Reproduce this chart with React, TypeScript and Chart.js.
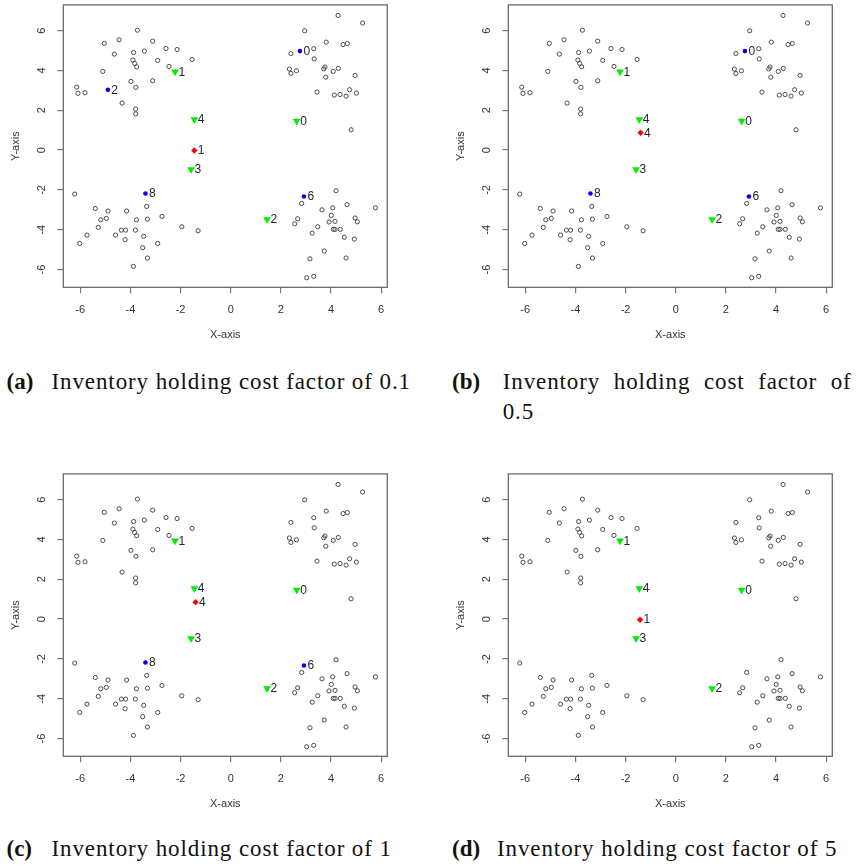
import React, { useEffect, useRef } from 'react';
import { Chart, registerables } from 'chart.js';

Chart.register(...registerables);

// ---------- data ----------
const CUSTOMER_X = [
  -3.72, -4.45, -5.04, -3.11, -2.58, -2.14, -3.44, -3.87, -4.64, -1.54, -2.91, -3.9, -3.83, -3.75, -2.46, -5.1, -3.98, -3.11, -3.78, -6.14, -6.09, -5.81, -4.33, -3.79, -3.79,
  4.28, 5.26, 2.95, 3.81, 4.48, 4.65, 3.31, 2.4, 3.33, 2.34, 2.4, 2.62, 3.71, 3.76, 4.09, 4.29, 3.79, 4.96, 3.44, 4.13, 4.36, 4.6, 4.74, 5.01, 4.8,
  -6.22, -5.4, -4.89, -5.18, -4.96, -5.28, -5.73, -6.02, -4.15, -3.76, -3.35, -3.32, -2.74, -4.36, -4.19, -4.59, -3.8, -4.21, -3.47, -3.51, -2.91, -3.32, -3.88, -1.95, -1.3,
  4.2, 2.83, 3.64, 4.07, 4.64, 5.77, 2.67, 2.55, 4.01, 3.92, 4.16, 4.96, 5.05, 3.47, 3.25, 4.09, 4.16, 4.37, 4.53, 4.93, 3.73, 3.16, 4.6, 3.03, 3.31,
];
const CUSTOMER_Y = [
  6.02, 5.54, 5.36, 5.47, 5.1, 5.05, 4.97, 4.9, 4.82, 4.55, 4.5, 4.52, 4.35, 4.18, 4.2, 3.95, 3.45, 3.48, 3.15, 3.16, 2.85, 2.88, 2.36, 2.06, 1.82,
  6.76, 6.38, 5.99, 5.42, 5.3, 5.35, 5.09, 4.85, 4.58, 4.07, 3.85, 3.98, 4.08, 4.17, 3.95, 4.1, 3.66, 3.75, 2.91, 2.76, 2.79, 2.71, 3.03, 2.86, 1.02,
  -2.21, -2.93, -3.06, -3.5, -3.43, -3.88, -4.27, -4.69, -3.06, -3.5, -2.83, -3.47, -3.33, -4.02, -4.02, -4.27, -4.02, -4.5, -4.33, -4.9, -4.69, -5.42, -5.84, -3.85, -4.05,
  -2.04, -2.68, -3.0, -2.9, -2.74, -2.9, -3.45, -3.7, -3.28, -3.61, -3.58, -3.41, -3.6, -3.85, -4.17, -3.98, -3.98, -3.98, -4.38, -4.47, -5.07, -5.46, -5.42, -6.41, -6.34,
];

const X_TICKS = [-6, -4, -2, 0, 2, 4, 6];
const Y_TICKS = [-6, -4, -2, 0, 2, 4, 6];
const X_MIN = -6.675;
const X_MAX = 6.244;
const Y_MIN = -6.89;
const Y_MAX = 7.29;

const GREEN_X = [-2.22, -1.45, 2.63, -1.58, 1.45];
const GREEN_Y = [3.93, 1.54, 1.46, -0.97, -3.48];
const GREEN_LABELS = ['1', '4', '0', '3', '2'];

const BLUE_A_X = [-4.9, 2.76, -3.4, 2.92];
const BLUE_A_Y = [3.03, 4.97, -2.18, -2.33];
const BLUE_A_LABELS = ['2', '0', '8', '6'];
const BLUE_B_X = [2.76, -3.4, 2.92];
const BLUE_B_Y = [4.97, -2.18, -2.33];
const BLUE_B_LABELS = ['0', '8', '6'];
const BLUE_C_X = [-3.4, 2.92];
const BLUE_C_Y = [-2.18, -2.33];
const BLUE_C_LABELS = ['8', '6'];
const BLUE_D_X: number[] = [];
const BLUE_D_Y: number[] = [];
const BLUE_D_LABELS: string[] = [];

const RED_A_X = [-1.45];
const RED_A_Y = [-0.02];
const RED_A_LABELS = ['1'];
const RED_B_X = [-1.4];
const RED_B_Y = [0.87];
const RED_B_LABELS = ['4'];
const RED_C_X = [-1.4];
const RED_C_Y = [0.85];
const RED_C_LABELS = ['4'];
const RED_D_X = [-1.42];
const RED_D_Y = [-0.03];
const RED_D_LABELS = ['1'];

const CAPTION_PREFIX = ['(a)', '(b)', '(c)', '(d)'];
const CAPTION_TEXT = [
  'Inventory holding cost factor of 0.1',
  'Inventory holding cost factor of 0.5',
  'Inventory holding cost factor of 1',
  'Inventory holding cost factor of 5',
];

// ---------- helpers ----------
const zip = (xs: number[], ys: number[]) => xs.map((x, i) => ({ x, y: ys[i] }));

const SANS = "'Liberation Sans', Arial, sans-serif";
const SERIF = "'Liberation Serif', 'Times New Roman', serif";

const CANVAS_W = 420;
const CANVAS_H = 345;
const AREA_LEFT = 63.3;
const AREA_RIGHT = 387.3;
const AREA_TOP = 4.7;
const AREA_BOTTOM = 287.3;

const boxPlugin = {
  id: 'rbox',
  afterDraw(chart: any) {
    const { ctx, chartArea: a } = chart;
    ctx.save();
    ctx.strokeStyle = '#6a6a6a';
    ctx.lineWidth = 1.3;
    ctx.strokeRect(a.left, a.top, a.right - a.left, a.bottom - a.top);
    ctx.restore();
  },
};

const labelPlugin = {
  id: 'ptLabels',
  afterDatasetsDraw(chart: any) {
    const { ctx } = chart;
    ctx.save();
    ctx.font = `12px ${SANS}`;
    ctx.fillStyle = '#222233';
    ctx.textAlign = 'left';
    ctx.textBaseline = 'middle';
    chart.data.datasets.forEach((ds: any, i: number) => {
      const labels: string[] | undefined = ds.pointLabels;
      if (!labels) return;
      const meta = chart.getDatasetMeta(i);
      meta.data.forEach((el: any, j: number) => {
        ctx.fillText(labels[j], el.x + 3.5, el.y + 0.5);
      });
    });
    ctx.restore();
  },
};

type PanelProps = {
  left: number;
  top: number;
  blueX: number[];
  blueY: number[];
  blueLabels: string[];
  redX: number[];
  redY: number[];
  redLabels: string[];
};

function Panel(p: PanelProps) {
  const ref = useRef<HTMLCanvasElement>(null);
  useEffect(() => {
    if (!ref.current) return;
    const tickFont = { family: SANS, size: 11 };
    const chart = new Chart(ref.current, {
      type: 'scatter',
      data: {
        datasets: [
          {
            data: zip(CUSTOMER_X, CUSTOMER_Y),
            pointStyle: 'circle',
            pointRadius: 2.1,
            pointBorderWidth: 0.9,
            pointBorderColor: '#3a3a3a',
            pointBackgroundColor: 'rgba(0,0,0,0)',
          },
          {
            data: zip(GREEN_X, GREEN_Y),
            pointStyle: 'triangle',
            rotation: 180,
            pointRadius: 4,
            pointBorderWidth: 0.5,
            pointBorderColor: '#00e000',
            pointBackgroundColor: '#00ee00',
            pointLabels: GREEN_LABELS,
          } as any,
          {
            data: zip(p.blueX, p.blueY),
            pointStyle: 'circle',
            pointRadius: 2.3,
            pointBorderWidth: 0,
            pointBackgroundColor: '#0000ff',
            pointLabels: p.blueLabels,
          } as any,
          {
            data: zip(p.redX, p.redY),
            pointStyle: 'rectRot',
            pointRadius: 3.2,
            pointBorderWidth: 0,
            pointBackgroundColor: '#ff0000',
            pointLabels: p.redLabels,
          } as any,
        ],
      },
      options: {
        animation: false,
        responsive: false,
        devicePixelRatio: 1,
        layout: {
          padding: { left: 0, top: AREA_TOP, right: CANVAS_W - AREA_RIGHT, bottom: 0 },
        },
        plugins: {
          legend: { display: false },
          tooltip: { enabled: false },
        },
        scales: {
          x: {
            type: 'linear',
            min: X_MIN,
            max: X_MAX,
            afterBuildTicks: (s: any) => {
              s.ticks = X_TICKS.map((v) => ({ value: v }));
            },
            afterFit: (s: any) => {
              s.height = CANVAS_H - AREA_BOTTOM;
              s.paddingLeft = 0;
              s.paddingRight = 0;
            },
            grid: {
              drawOnChartArea: false,
              drawTicks: true,
              tickLength: 6,
              color: '#777',
              lineWidth: 1.2,
            },
            border: { display: false },
            ticks: {
              font: tickFont,
              color: '#333',
              padding: 10,
              maxRotation: 0,
              autoSkip: false,
            },
            title: {
              display: true,
              text: 'X-axis',
              font: tickFont,
              color: '#333',
              padding: { top: 0, bottom: 3.4 },
            },
          },
          y: {
            type: 'linear',
            min: Y_MIN,
            max: Y_MAX,
            afterBuildTicks: (s: any) => {
              s.ticks = Y_TICKS.map((v) => ({ value: v }));
            },
            afterFit: (s: any) => {
              s.width = AREA_LEFT;
              s.paddingTop = 0;
              s.paddingBottom = 0;
            },
            grid: {
              drawOnChartArea: false,
              drawTicks: true,
              tickLength: 6,
              color: '#777',
              lineWidth: 1.2,
            },
            border: { display: false },
            ticks: {
              font: tickFont,
              color: '#333',
              padding: 10.4,
              minRotation: 90,
              maxRotation: 90,
              crossAlign: 'center',
              autoSkip: false,
            },
            title: {
              display: true,
              text: 'Y-axis',
              font: tickFont,
              color: '#333',
              padding: { top: 9, bottom: 0 },
            },
          },
        },
      } as any,
      plugins: [boxPlugin, labelPlugin],
    });
    return () => chart.destroy();
  }, []);
  return (
    <canvas
      ref={ref}
      width={CANVAS_W}
      height={CANVAS_H}
      style={{ position: 'absolute', left: p.left, top: p.top, width: CANVAS_W, height: CANVAS_H }}
    />
  );
}

const capBase: React.CSSProperties = {
  position: 'absolute',
  fontFamily: SERIF,
  fontSize: 23,
  lineHeight: '30px',
  color: '#111',
  whiteSpace: 'nowrap',
  letterSpacing: '0.9px',
};

function Caption({ idx, left, top }: { idx: number; left: number; top: number }) {
  return (
    <div style={{ ...capBase, left, top }}>
      <span style={{ display: 'inline-block', width: 45, fontWeight: 'bold', letterSpacing: 0 }}>
        {CAPTION_PREFIX[idx]}
      </span>
      {CAPTION_TEXT[idx]}
    </div>
  );
}

function CaptionWrapped({ idx, left, top }: { idx: number; left: number; top: number }) {
  const words = CAPTION_TEXT[idx].split(' ');
  const last = words.pop();
  return (
    <div style={{ ...capBase, left, top }}>
      <div style={{ display: 'flex' }}>
        <span style={{ display: 'inline-block', width: 50.7, fontWeight: 'bold', letterSpacing: 0 }}>
          {CAPTION_PREFIX[idx]}
        </span>
        <div style={{ width: 349, textAlign: 'justify', textAlignLast: 'justify' as any }}>{words.join(' ')}</div>
      </div>
      <div style={{ marginLeft: 50.7 }}>{last}</div>
    </div>
  );
}

export default function App() {
  return (
    <div
      style={{
        position: 'absolute',
        left: 0,
        top: 0,
        width: 865,
        height: 868,
        background: '#fff',
        overflow: 'hidden',
      }}
    >
      <Panel left={0} top={0} blueX={BLUE_A_X} blueY={BLUE_A_Y} blueLabels={BLUE_A_LABELS} redX={RED_A_X} redY={RED_A_Y} redLabels={RED_A_LABELS} />
      <Panel left={445} top={0} blueX={BLUE_B_X} blueY={BLUE_B_Y} blueLabels={BLUE_B_LABELS} redX={RED_B_X} redY={RED_B_Y} redLabels={RED_B_LABELS} />
      <Panel left={0} top={469.3} blueX={BLUE_C_X} blueY={BLUE_C_Y} blueLabels={BLUE_C_LABELS} redX={RED_C_X} redY={RED_C_Y} redLabels={RED_C_LABELS} />
      <Panel left={445} top={469.3} blueX={BLUE_D_X} blueY={BLUE_D_Y} blueLabels={BLUE_D_LABELS} redX={RED_D_X} redY={RED_D_Y} redLabels={RED_D_LABELS} />
      <Caption idx={0} left={6.5} top={366.8} />
      <CaptionWrapped idx={1} left={452} top={366.8} />
      <Caption idx={2} left={6.5} top={834} />
      <Caption idx={3} left={452} top={834} />
    </div>
  );
}
